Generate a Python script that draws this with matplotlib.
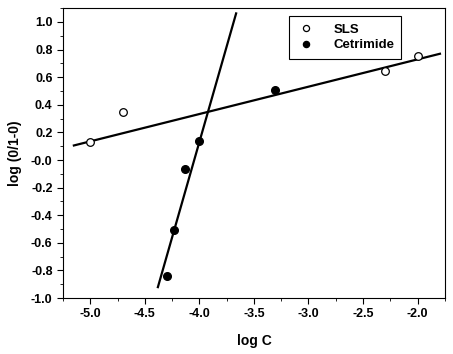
import numpy as np
import matplotlib.pyplot as plt
from matplotlib.ticker import MultipleLocator

plt.rcParams['font.family'] = ['Liberation Sans', 'DejaVu Sans']
plt.rcParams['font.weight'] = 'bold'

sls_x = [-5.0, -4.7, -2.3, -2.0]
sls_y = [0.13, 0.35, 0.645, 0.755]
cet_x = [-4.30, -4.23, -4.13, -4.0, -3.31]
cet_y = [-0.837, -0.504, -0.065, 0.14, 0.508]

# fitted lines as drawn in the original (slope, intercept, x range)
sls_fit = (0.198, 1.125, -5.15, -1.795)
cet_fit = (2.765, 11.19, -4.38, -3.663)

fig = plt.figure(figsize=(4.53, 3.54), dpi=100)
ax = fig.add_axes([0.139, 0.158, 0.843, 0.819])

for slope, icpt, x0, x1 in (sls_fit, cet_fit):
    xx = np.array([x0, x1])
    ax.plot(xx, slope * xx + icpt, color='black', lw=1.6, zorder=2)

ax.plot(sls_x, sls_y, 'o', ms=5.5, mfc='white', mec='black', mew=0.9,
        ls='none', label='SLS', zorder=3)
ax.plot(cet_x, cet_y, 'o', ms=5.5, mfc='black', mec='black',
        ls='none', label='Cetrimide', zorder=3)

ax.set_xlim(-5.25, -1.75)
ax.set_ylim(-1.0, 1.1)
ax.xaxis.set_minor_locator(MultipleLocator(0.25))
ax.yaxis.set_minor_locator(MultipleLocator(0.1))
ax.tick_params(which='both', direction='out', top=False, right=False, labelsize=9)
ax.tick_params(which='major', length=4)
ax.tick_params(which='minor', length=2.5)
ax.set_xticks(np.arange(-5.0, -1.9, 0.5))
ax.set_xticklabels(['-5.0', '-4.5', '-4.0', '-3.5', '-3.0', '-2.5', '-2.0'])
ax.set_yticks(np.arange(-1.0, 1.01, 0.2))
ax.set_yticklabels(['%.1f' % v for v in np.arange(-1.0, 1.01, 0.2)])

ax.set_xlabel('log C', fontsize=10, fontweight='bold', labelpad=10)
ax.set_ylabel('log (0/1-0)', fontsize=10, fontweight='bold', labelpad=6)

leg = ax.legend(loc='upper left', bbox_to_anchor=(0.592, 0.972), fontsize=9.5,
                frameon=True, fancybox=False, edgecolor='black', framealpha=1,
                borderaxespad=0, handlelength=1.4, handletextpad=1.4,
                borderpad=0.55, labelspacing=0.25, markerscale=0.8)
leg.get_frame().set_linewidth(0.8)

plt.savefig('out.png', dpi=100)
